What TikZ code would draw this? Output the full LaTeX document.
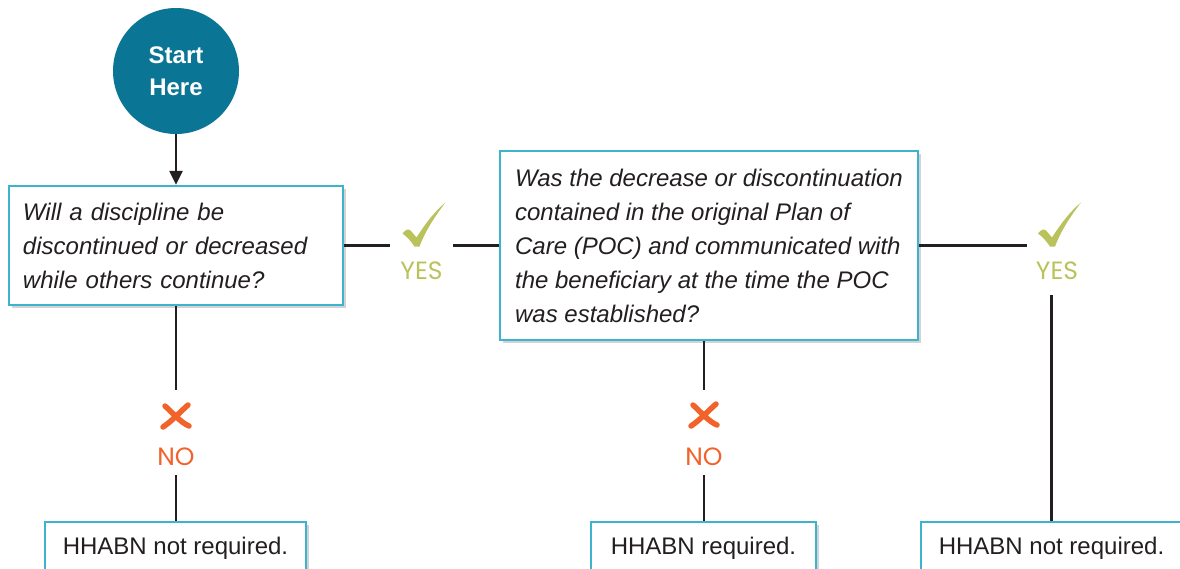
\documentclass[tikz,border=0pt]{standalone}
\usepackage{fontspec}
\setmainfont{Liberation Sans}
\newfontfamily\ansfont{Poppins}
\usetikzlibrary{arrows.meta,shadows}
\definecolor{startblue}{RGB}{11,117,149}
\definecolor{boxcyan}{RGB}{60,180,205}
\definecolor{yesgreen}{RGB}{186,194,92}
\definecolor{noorange}{RGB}{241,99,42}
\definecolor{inkgray}{RGB}{35,31,32}

\begin{document}
\begin{tikzpicture}[x=1pt,y=-1pt,
  startnode/.style={circle,fill=startblue,text=white,minimum size=126pt,inner sep=0pt,
    align=center,font=\fontsize{24}{32}\selectfont\bfseries},
  boxshadow/.style={drop shadow={shadow xshift=2.5pt,shadow yshift=-2.5pt,opacity=0.35}},
  question/.style={draw=boxcyan,line width=2.4pt,fill=white,text=inkgray,align=left,
    inner ysep=0pt,boxshadow,font=\fontsize{24}{34}\selectfont\itshape},
  answer/.style={draw=boxcyan,line width=2.4pt,fill=white,text=inkgray,anchor=north,
    minimum height=52pt,inner sep=0pt,boxshadow,font=\fontsize{24}{30}\selectfont},
  branch/.style={inner sep=0pt,minimum width=60pt,minimum height=85pt},
  link/.style={draw=inkgray,line width=2.4pt},
  yeslabel/.style={text=yesgreen,inner sep=0pt,font=\fontsize{25}{25}\selectfont\ansfont},
  nolabel/.style={text=noorange,inner sep=0pt,font=\fontsize{25}{25}\selectfont\ansfont},
  chk/.pic={
    \fill[yesgreen] (3,1) -- (-2,1) .. controls (-6,-5) and (-10,-9) .. (-14,-12)
      .. controls (-11,-16) and (-8,-17) .. (-6,-15) -- (0,-8)
      .. controls (9,-22) and (18,-34) .. (29,-43)
      .. controls (19,-30) and (9,-15) .. (3,1) -- cycle;
  },
  crs/.pic={
    \draw[noorange,line width=5.5pt,line cap=round] (-11,-10) .. controls (-2,-2) and (4,6) .. (13,10);
    \draw[noorange,line width=5.5pt,line cap=round] (12,-11) .. controls (4,-4) and (-4,5) .. (-13,11);
  }]
  \clip (0,0) rectangle (1180,568);

  \node[startnode] (start) at (176,71) {Start\\Here};
  \node[question,text width=306pt,inner xsep=14pt,minimum height=119pt] (q1) at (176,245.5)
    {Will a discipline be\\discontinued or decreased\\while others continue?};
  \node[question,inner xsep=0pt,minimum width=418pt,minimum height=189pt] (q2) at (709,245.5)
    {Was the decrease or discontinuation\\contained in the original Plan of\\Care (POC) and communicated with\\the beneficiary at the time the POC\\was established?};

  \node[answer,minimum width=261pt] (a1) at (175.5,521) {HHABN not required.};
  \node[answer,minimum width=225pt] (a2) at (703.5,521) {HHABN required.};
  \node[answer,minimum width=261pt] (a3) at (1051.5,521) {HHABN not required.};

  % yes / no branches
  \node[branch,minimum width=63pt] (yes1) at (421.5,245.5) {};
  \node[branch,minimum height=99pt] (yes2) at (1057,245.5) {};
  \node[branch,minimum width=40pt] (no1) at (176,432.5) {};
  \node[branch,minimum width=40pt] (no2) at (704,432.5) {};

  \path (yes1) ++(-5,0) pic {chk};
  \path (yes1) ++(0,25.5) node[yeslabel] (yes1txt) {YES};
  \path (yes2) ++(-5,0) pic {chk};
  \path (yes2) ++(0,25.5) node[yeslabel] (yes2txt) {YES};
  \path (no1) ++(0,-16.5) pic {crs};
  \path (no1) ++(0,24.5) node[nolabel] (no1txt) {NO};
  \path (no2) ++(0,-17.5) pic {crs};
  \path (no2) ++(0,24.5) node[nolabel] (no2txt) {NO};

  \draw[link,-{Triangle[length=14pt,width=13pt]}] (start) -- (q1);
  \draw[link] (q1.east) -- (q1.east -| yes1.west);
  \draw[link] (yes1.east |- q2.west) -- (q2.west);
  \draw[link] (q2.east) -- (q2.east -| yes2.west);
  \draw[link] (a3.north |- yes2.south) -- (a3.north);
  \draw[link] (q1.south) -- (no1.north);
  \draw[link] (no1.south) -- (no1.south |- a1.north);
  \draw[link] (q2.south -| no2) -- (no2.north);
  \draw[link] (no2.south) -- (no2.south |- a2.north);
\end{tikzpicture}
\end{document}
